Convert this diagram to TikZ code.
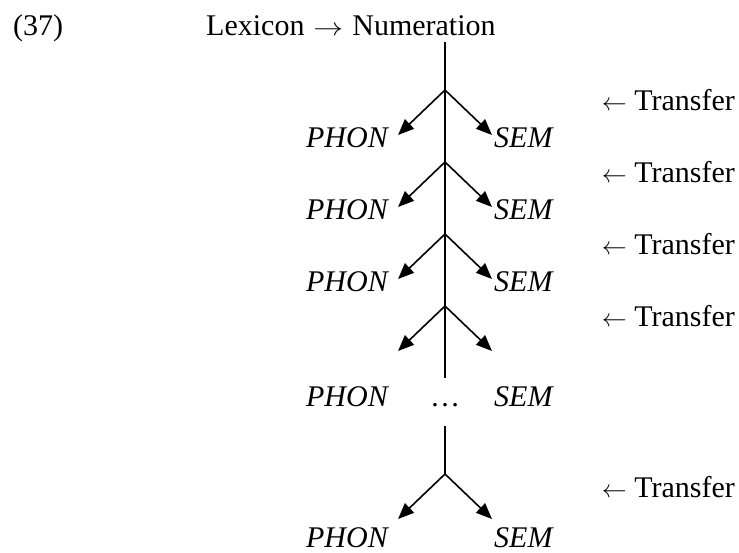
\documentclass[tikz,border=0pt]{standalone}
\usepackage{fontspec}
\setmainfont{Liberation Serif}
\usetikzlibrary{arrows.meta}
\begin{document}
\begin{tikzpicture}[x=1pt,y=-1pt,
  lbl/.style={inner sep=0pt,font=\fontsize{30}{36}\selectfont},
  itl/.style={inner sep=0pt,font=\fontsize{30}{36}\selectfont\itshape},
  stem/.style={line width=1.6pt},
  br/.style={line width=1.6pt,-{Triangle[length=16pt,width=13pt]}}]
\useasboundingbox (0,0) rectangle (739,552);
\node[lbl,anchor=base west] (ex) at (13,35) {(37)};
\node[lbl,anchor=base west] (lex) at (206,35) {Lexicon\hspace{0.3em}\scalebox{1.2}[1]{$\rightarrow$}\hspace{0.3em}Numeration};
\coordinate (top) at (445,42);
\coordinate (bot) at (445,378);
\coordinate (top2) at (445,426);
\draw[stem] (top) -- (bot);
\foreach \i/\y in {1/90,2/162,3/234,4/306,5/474}{
  \coordinate (b\i) at (445,\y);
  \coordinate (l\i) at (398,\y+45);
  \coordinate (r\i) at (492,\y+45);
  \draw[br] (b\i) -- (l\i);
  \draw[br] (b\i) -- (r\i);
}
\draw[stem] (top2) -- (b5);
\foreach \i/\y in {1/147,2/219,3/291,4/406,5/547}{
  \node[itl,anchor=base east] (phon\i) at (388,\y) {PHON};
  \node[itl,anchor=base west] (sem\i) at (494,\y) {SEM};
}
\node[lbl,anchor=base] (dots) at (445,406) {…};
\foreach \i/\y in {1/110,2/182,3/254,4/326,5/497}{
  \node[lbl,anchor=base east] (tr\i) at (735,\y) {$\leftarrow$ Transfer};
}
\end{tikzpicture}
\end{document}
